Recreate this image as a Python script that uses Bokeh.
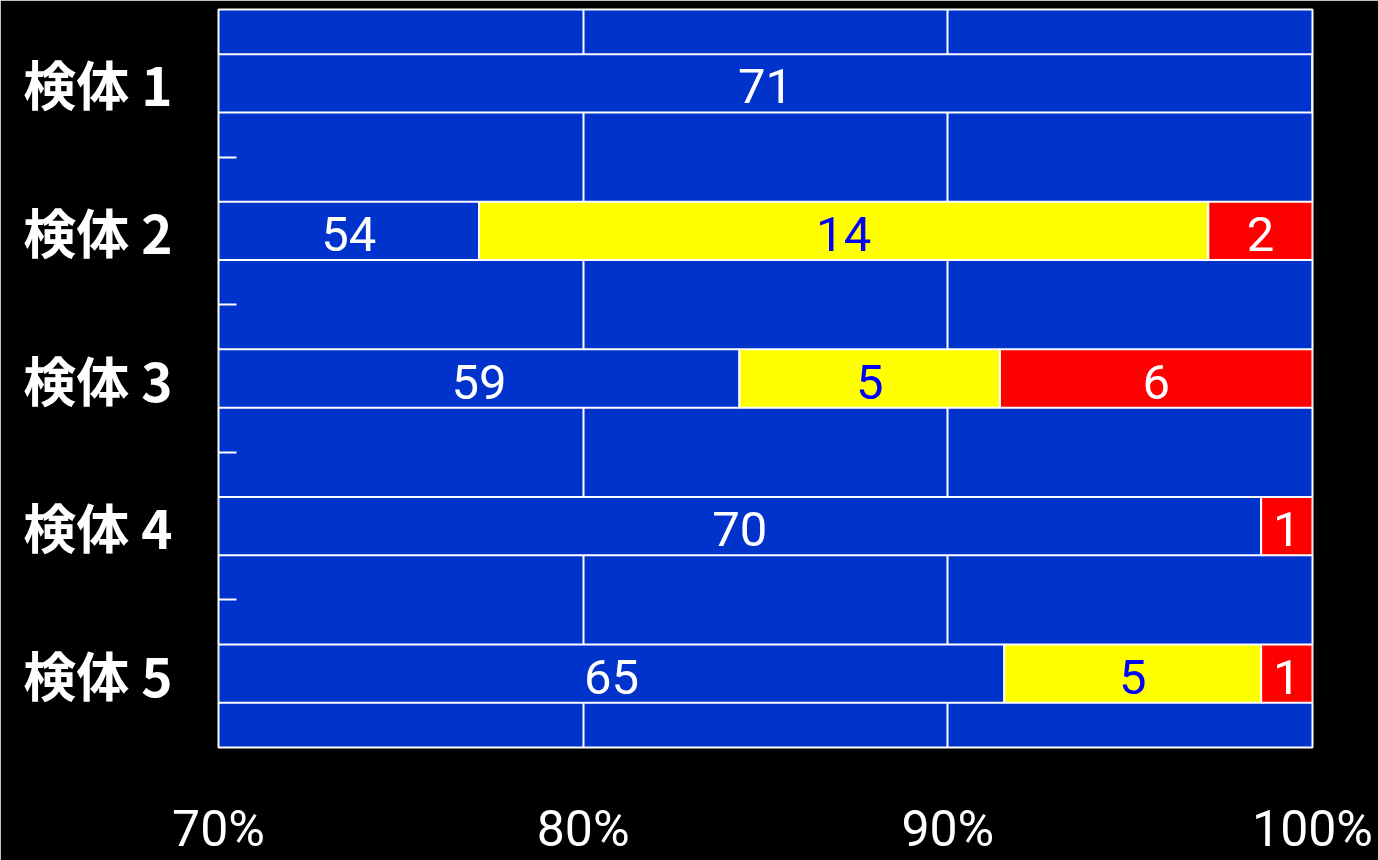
from bokeh.plotting import figure
from bokeh.models import ColumnDataSource, Range1d, FixedTicker
from bokeh.core.properties import value
from bokeh.embed import file_html
from bokeh.resources import INLINE

samples = ["検体 1", "検体 2", "検体 3", "検体 4", "検体 5"]
blue_counts = [71, 54, 59, 70, 65]
yellow_counts = [0, 14, 5, 0, 5]
red_counts = [0, 2, 6, 1, 1]
x_ticks = [70, 80, 90, 100]
x_tick_labels = ["70%", "80%", "90%", "100%"]

series = [
    (blue_counts, "#0033cc", "#ffffff"),
    (yellow_counts, "#ffff00", "#0000ff"),
    (red_counts, "#ff0000", "#ffffff"),
]

XMIN, XMAX = 70, 100
ys = list(range(1, len(samples) + 1))
totals = [b + y + r for b, y, r in zip(blue_counts, yellow_counts, red_counts)]

p = figure(width=1378, height=860, output_backend="svg", toolbar_location=None,
           x_range=Range1d(XMIN, XMAX), y_range=Range1d(len(samples) + 0.5, 0.5),
           min_border_left=218, min_border_right=66, min_border_top=9,
           min_border_bottom=112)
p.background_fill_color = "#0033cc"
p.border_fill_color = "#000000"
p.outline_line_color = "#ffffff"
p.outline_line_width = 2

lefts = [0.0] * len(samples)
lab_x, lab_y, lab_t, lab_c = [], [], [], []
for counts, color, tcolor in series:
    pct = [c / t * 100 for c, t in zip(counts, totals)]
    rights = [l + v for l, v in zip(lefts, pct)]
    src = ColumnDataSource(dict(y=ys, left=lefts, right=rights))
    p.hbar(y="y", left="left", right="right", height=0.395, source=src,
           fill_color=color, line_color="#ffffff", line_width=2)
    for i, c in enumerate(counts):
        if c > 0:
            a = max(lefts[i], XMIN)
            lab_x.append((a + rights[i]) / 2)
            lab_y.append(ys[i])
            lab_t.append(str(c))
            lab_c.append(tcolor)
    lefts = rights

lsrc = ColumnDataSource(dict(x=lab_x, y=lab_y, t=lab_t, c=lab_c))
p.text(x="x", y="y", text="t", text_color="c", source=lsrc,
       text_align="center", text_baseline="middle",
       text_font=value("Roboto"), text_font_size="49px", y_offset=3)

# grid
p.ygrid.grid_line_color = None
p.xgrid.grid_line_color = "#ffffff"
p.xgrid.grid_line_width = 2
p.xgrid.ticker = FixedTicker(ticks=x_ticks)

# x axis
p.xaxis.ticker = FixedTicker(ticks=x_ticks)
p.xaxis.major_label_overrides = {t: l for t, l in zip(x_ticks, x_tick_labels)}
p.xaxis.axis_line_color = None
p.xaxis.major_tick_line_color = None
p.xaxis.major_tick_in = 0
p.xaxis.major_tick_out = 0
p.xaxis.minor_tick_line_color = None
p.xaxis.minor_tick_in = 0
p.xaxis.minor_tick_out = 0
p.xaxis.major_label_standoff = 52
p.xaxis.major_label_text_color = "#ffffff"
p.xaxis.major_label_text_font = "Roboto"
p.xaxis.major_label_text_font_size = "50px"

# y axis
p.yaxis.ticker = FixedTicker(ticks=ys, minor_ticks=[y + 0.5 for y in ys[:-1]])
p.yaxis.major_label_overrides = {y: s for y, s in zip(ys, samples)}
p.yaxis.axis_line_color = None
p.yaxis.major_tick_in = 0
p.yaxis.major_tick_out = 0
p.yaxis.minor_tick_in = 18
p.yaxis.minor_tick_out = 0
p.yaxis.minor_tick_line_color = "#ffffff"
p.yaxis.minor_tick_line_width = 2
p.yaxis.major_label_standoff = 46
p.yaxis.major_label_text_color = "#ffffff"
p.yaxis.major_label_text_font = "Noto Sans CJK JP"
p.yaxis.major_label_text_font_style = "bold"
p.yaxis.major_label_text_font_size = "53px"

open("out.html", "w").write(file_html(p, INLINE))
